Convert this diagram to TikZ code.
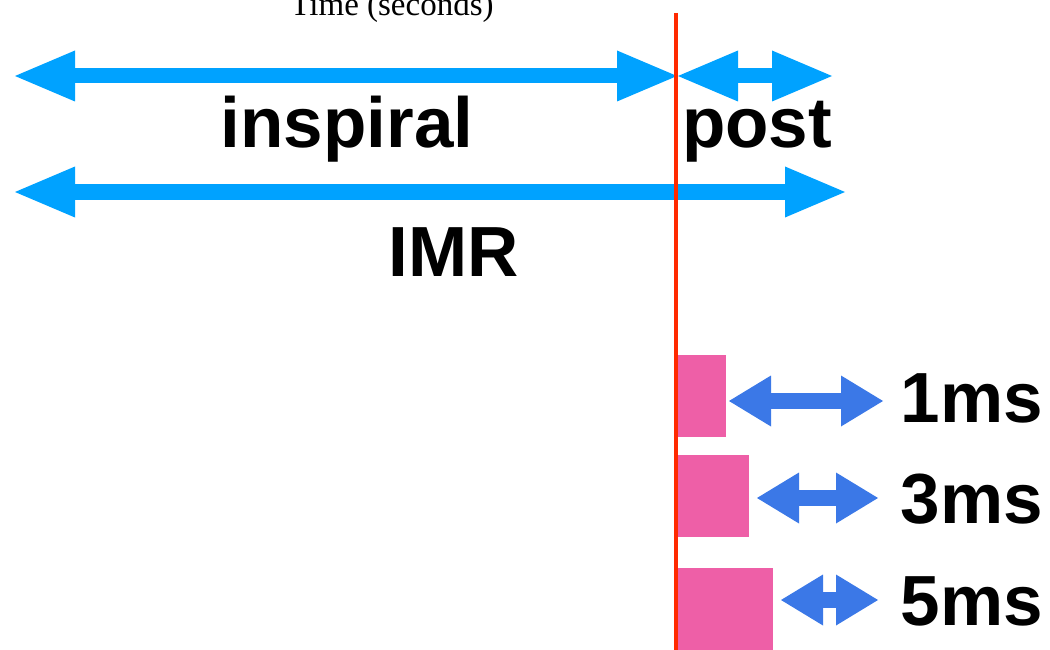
\documentclass[tikz,border=0pt]{standalone}
\usepackage{fontspec}
\setmainfont{Liberation Serif}
\newfontfamily\labelfont{Liberation Sans}
\usetikzlibrary{arrows.meta}
\definecolor{skyblue}{RGB}{0,162,255}
\definecolor{midblue}{RGB}{59,120,231}
\definecolor{redline}{RGB}{255,42,0}
\definecolor{pinkbar}{RGB}{238,95,167}
\begin{document}
\begin{tikzpicture}[x=1pt,y=-1pt,
  bigarrow/.style={draw=skyblue, line width=15pt, {Triangle[length=60pt,width=51pt,line width=0pt]}-{Triangle[length=60pt,width=51pt,line width=0pt]}},
  smallarrow/.style={draw=midblue, line width=16pt, {Triangle[length=42pt,width=51pt,line width=0pt]}-{Triangle[length=42pt,width=51pt,line width=0pt]}},
  biglabel/.style={font=\labelfont\bfseries\fontsize{71}{78}\selectfont, inner sep=0pt, anchor=base},
  mslabel/.style={font=\labelfont\bfseries\fontsize{71}{78}\selectfont, inner sep=0pt, anchor=base east},
  bar/.style={fill=pinkbar, draw=none, inner sep=0pt, outer sep=0pt}]
\useasboundingbox (0,0) rectangle (1050,650);
% title
\node[font=\fontsize{33}{36}\selectfont, inner sep=0pt, anchor=base] (title) at (392,16) {Time (seconds)};
% coordinates for arrows
\coordinate (inspL) at (15,76);
\coordinate (merge) at (677,76);
\coordinate (postL) at (678,76);
\coordinate (postR) at (832,76);
\coordinate (imrL) at (15,192);
\coordinate (imrR) at (845,192);
\draw[bigarrow] (inspL) -- (merge);
\draw[bigarrow] (postL) -- (postR);
\draw[bigarrow] (imrL) -- (imrR);
% labels
\node[biglabel] (insp) at (347,148) {inspiral};
\node[biglabel] (post) at (757,148) {post};
\node[biglabel] (imr) at (454,276) {IMR};
% bars
\path[bar] (676,355) rectangle (726,437);
\path[bar] (676,455) rectangle (749,537);
\path[bar] (676,568) rectangle (773,650);
% red line
\coordinate (lineTop) at (676,13);
\coordinate (lineBot) at (676,650);
\draw[redline, line width=4.5pt] (lineTop) -- (lineBot);
% small arrows
\coordinate (a1L) at (729,401);
\coordinate (a1R) at (883,401);
\coordinate (a2L) at (757,498);
\coordinate (a2R) at (878,498);
\coordinate (a3L) at (781,600);
\coordinate (a3R) at (878,600);
\draw[smallarrow] (a1L) -- (a1R);
\draw[smallarrow] (a2L) -- (a2R);
\draw[smallarrow] (a3L) -- (a3R);
% ms labels
\node[mslabel] (ms1) at (1043,422) {1ms};
\node[mslabel] (ms3) at (1043,523) {3ms};
\node[mslabel] (ms5) at (1043,625) {5ms};
\end{tikzpicture}
\end{document}
